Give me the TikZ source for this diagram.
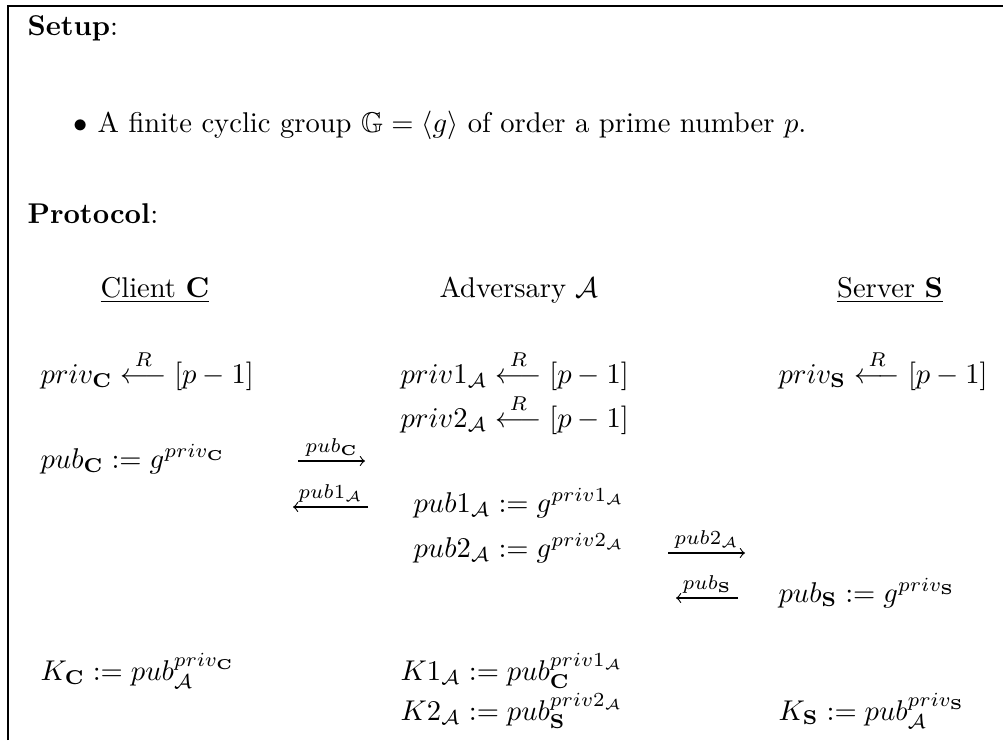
\documentclass[tikz,border=0pt]{standalone}
\usepackage{amsmath}
\usepackage{amssymb}
\usepackage{xcolor}
\usetikzlibrary{arrows,positioning,calc}

\tikzset{
  txt/.style={anchor=base west, inner sep=0pt},
  head/.style={anchor=base, inner sep=0pt},
  msg/.style={->, line width=0.4pt},
  lbl/.style={above, inner sep=1.5pt}
}

\newcommand{\cli}{\mathbf{C}}
\newcommand{\srv}{\mathbf{S}}
\newcommand{\adv}{\mathcal{A}}
\newcommand{\rnd}{\overset{R}{\longleftarrow}}

\begin{document}
\begin{tikzpicture}[x=0.35pt, y=-0.35pt]
    \useasboundingbox (0,0) rectangle (1003,740);
    % frame
    \draw[line width=0.45pt] (8,740) -- (8,6) -- (1003,6);

    % setup
    \node[txt] (setup) at (27,35) {\textbf{Setup}:};
    \node[head] (bullet) at (81,132) {$\bullet$};
    \node[txt] (group) at (97,132) {A finite cyclic group $\mathbb{G}=\langle g\rangle$ of order a prime number $p$.};

    % protocol
    \node[txt] (proto) at (27,223) {\textbf{Protocol}:};
    \node[head] (client) at (155,297) {\underline{Client $\cli$}};
    \node[head] (advers) at (519,297) {Adversary $\adv$};
    \node[head] (server) at (890,297) {\underline{Server $\srv$}};

    \node[txt] (privc) at (40,383) {$priv_{\cli} \rnd [p-1]$};
    \node[txt] (privao) at (400,383) {$priv1_{\adv} \rnd [p-1]$};
    \node[txt] (privs) at (778,383) {$priv_{\srv} \rnd [p-1]$};
    \node[txt] (privat) at (400,427) {$priv2_{\adv} \rnd [p-1]$};

    \node[txt] (pubc) at (40,468) {$pub_{\cli} := g^{priv_{\cli}}$};
    \node[txt] (pubao) at (413,512) {$pub1_{\adv} := g^{priv1_{\adv}}$};
    \node[txt] (pubat) at (413,557) {$pub2_{\adv} := g^{priv2_{\adv}}$};
    \node[txt] (pubs) at (778,602) {$pub_{\srv} := g^{priv_{\srv}}$};

    \node[txt] (kc) at (40,680) {$K_{\cli} := pub_{\adv}^{priv_{\cli}}$};
    \node[txt] (kao) at (400,680) {$K1_{\adv} := pub_{\cli}^{priv1_{\adv}}$};
    \node[txt] (kat) at (400,720) {$K2_{\adv} := pub_{\srv}^{priv2_{\adv}}$};
    \node[txt] (ks) at (778,720) {$K_{\srv} := pub_{\adv}^{priv_{\srv}}$};

    % messages
    \coordinate (m1a) at (298,461);
    \coordinate (m1b) at (365,461);
    \coordinate (m2a) at (368,507);
    \coordinate (m2b) at (293,507);
    \coordinate (m3a) at (668,553);
    \coordinate (m3b) at (745,553);
    \coordinate (m4a) at (738,598);
    \coordinate (m4b) at (676,598);

    \draw[msg] (m1a) -- node[lbl] {$\scriptstyle pub_{\cli}$} (m1b);
    \draw[msg] (m2a) -- node[lbl] {$\scriptstyle pub1_{\adv}$} (m2b);
    \draw[msg] (m3a) -- node[lbl] {$\scriptstyle pub2_{\adv}$} (m3b);
    \draw[msg] (m4a) -- node[lbl] {$\scriptstyle pub_{\srv}$} (m4b);
\end{tikzpicture}
\end{document}
